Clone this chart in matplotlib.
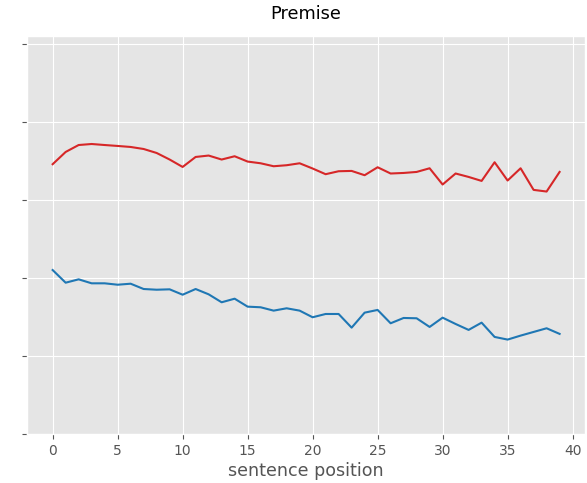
import numpy as np
import matplotlib
matplotlib.use("Agg")
import matplotlib.pyplot as plt

plt.style.use("ggplot")

# mean score per sentence position (two series)
positions = np.arange(40)
red_scores = [0.3457, 0.3614, 0.3703, 0.3716, 0.3703, 0.3691, 0.3678, 0.3652, 0.3601, 0.3517,
              0.3422, 0.3550, 0.3568, 0.3517, 0.3559, 0.3491, 0.3469, 0.3431, 0.3444, 0.3469,
              0.3402, 0.3329, 0.3367, 0.3371, 0.3316, 0.3418, 0.3338, 0.3345, 0.3358, 0.3405,
              0.3197, 0.3338, 0.3294, 0.3243, 0.3482, 0.3248, 0.3405, 0.3128, 0.3107, 0.3358]
blue_scores = [0.2101, 0.1939, 0.1982, 0.1931, 0.1931, 0.1913, 0.1926, 0.1858, 0.1849, 0.1854,
               0.1785, 0.1858, 0.1790, 0.1688, 0.1734, 0.1632, 0.1624, 0.1581, 0.1611, 0.1581,
               0.1496, 0.1538, 0.1538, 0.1363, 0.1555, 0.1590, 0.1419, 0.1487, 0.1483, 0.1372,
               0.1491, 0.1410, 0.1334, 0.1427, 0.1244, 0.1210, 0.1261, 0.1308, 0.1355, 0.1283]
yticks = [0.0, 0.1, 0.2, 0.3, 0.4, 0.5]

fig = plt.figure(figsize=(5.87, 4.83), dpi=100)
ax = fig.add_axes([0.0465, 0.1014, 0.95, 0.8241])
ax.plot(positions, red_scores, color="#d62728", lw=1.5)
ax.plot(positions, blue_scores, color="#1f77b4", lw=1.5)
ax.set_ylim(0, 0.51)
ax.set_yticks(yticks)
ax.set_yticklabels([])
ax.set_xticks(range(0, 41, 5))
ax.set_xlabel("sentence position", fontsize=12.6, labelpad=3)
ax.set_title("Premise", fontsize=12.8, pad=12)
fig.savefig("out.png", dpi=100)
